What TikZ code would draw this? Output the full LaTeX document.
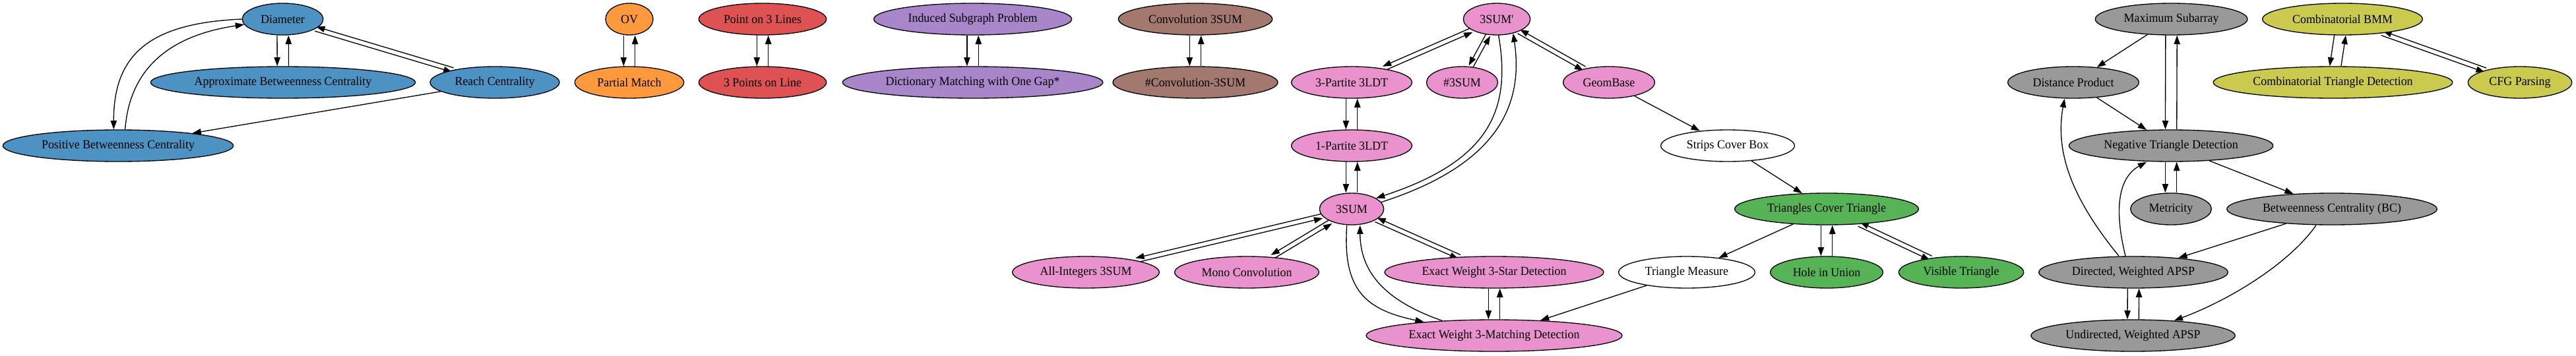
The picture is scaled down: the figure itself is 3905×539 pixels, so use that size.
\documentclass[tikz,border=0pt]{standalone}
\usepackage{fontspec}
\setmainfont{Liberation Serif}[FakeStretch=0.96]
\usetikzlibrary{shapes.geometric,arrows.meta}
\pgfdeclarelayer{background}
\pgfsetlayers{background,main}
\definecolor{cblue}{RGB}{76,146,195}
\definecolor{corange}{RGB}{255,153,62}
\definecolor{cred}{RGB}{222,82,83}
\definecolor{cpurple}{RGB}{169,133,202}
\definecolor{cbrown}{RGB}{163,120,111}
\definecolor{cpink}{RGB}{233,146,206}
\definecolor{cgreen}{RGB}{86,179,86}
\definecolor{cgray}{RGB}{153,153,153}
\definecolor{colive}{RGB}{201,202,78}
\tikzset{
  gv/.style={ellipse, draw=black, line width=1pt, minimum height=36pt, inner sep=0pt,
    font=\fontsize{14}{16}\selectfont},
  fblue/.style={gv, fill=cblue},
  forange/.style={gv, fill=corange},
  fred/.style={gv, fill=cred},
  fpurple/.style={gv, fill=cpurple},
  fbrown/.style={gv, fill=cbrown},
  fpink/.style={gv, fill=cpink},
  fgreen/.style={gv, fill=cgreen},
  fgray/.style={gv, fill=cgray},
  folive/.style={gv, fill=colive},
  fwhite/.style={gv, fill=white},
  arr/.style={line width=1pt, -{Triangle[length=10pt,width=7pt]}},
  dn/.style={transform canvas={xshift=-6.5pt}},
  upp/.style={transform canvas={xshift=6.5pt}},
  sh/.style={transform canvas={shift={(#1)}}}
}
\begin{document}
\begin{tikzpicture}[x=0.75pt,y=-0.75pt]
\useasboundingbox (0,0) rectangle (3905,539);
% blue
\node[fblue, minimum width=92pt] (dia) at (428.6,29) {Diameter};
\node[fblue, minimum width=301pt] (abc) at (429,125) {Approximate Betweenness Centrality};
\node[fblue, minimum width=147pt] (reach) at (750,125) {Reach Centrality};
\node[fblue, minimum width=262pt] (pbc) at (179,221) {Positive Betweenness Centrality};
% orange
\node[forange, minimum width=54pt] (ov) at (954,29) {OV};
\node[forange, minimum width=124pt] (pm) at (954,125) {Partial Match};
% red
\node[fred, minimum width=145pt] (p3l) at (1156,29) {Point on 3 Lines};
\node[fred, minimum width=145pt] (tpl) at (1156,125) {3 Points on Line};
% purple
\node[fpurple, minimum width=225pt] (isp) at (1474.6,29) {Induced Subgraph Problem};
\node[fpurple, minimum width=296pt] (dmg) at (1474.6,125) {Dictionary Matching with One Gap*};
% brown
\node[fbrown, minimum width=175pt] (c3s) at (1812,29) {Convolution 3SUM};
\node[fbrown, minimum width=187.5pt] (nc3s) at (1812,125) {\#Convolution-3SUM};
% pink
\node[fpink, minimum width=76pt] (tsp) at (2269,29) {3SUM\textquotesingle};
\node[fpink, minimum width=137pt] (tp) at (2049,125) {3-Partite 3LDT};
\node[fpink, minimum width=81pt] (ns) at (2216.5,125) {\#3SUM};
\node[fpink, minimum width=104pt] (geo) at (2439,125) {GeomBase};
\node[fpink, minimum width=137pt] (op) at (2049,221) {1-Partite 3LDT};
\node[fpink, minimum width=73pt] (ts) at (2049,317) {3SUM};
\node[fpink, minimum width=167pt] (ai) at (1646,413) {All-Integers 3SUM};
\node[fpink, minimum width=164pt] (mono) at (1890,413) {Mono Convolution};
\node[fpink, minimum width=249pt] (star) at (2265,413) {Exact Weight 3-Star Detection};
\node[fpink, minimum width=291pt] (match) at (2265,509) {Exact Weight 3-Matching Detection};
% white
\node[fwhite, minimum width=152pt] (scb) at (2619,221) {Strips Cover Box};
\node[fwhite, minimum width=155pt] (tm) at (2557,413) {Triangle Measure};
% green
\node[fgreen, minimum width=209pt] (tct) at (2769,317) {Triangles Cover Triangle};
\node[fgreen, minimum width=128pt] (hiu) at (2769,413) {Hole in Union};
\node[fgreen, minimum width=142pt] (vt) at (2973,413) {Visible Triangle};
% gray
\node[fgray, minimum width=173pt] (ms) at (3291.6,29) {Maximum Subarray};
\node[fgray, minimum width=149pt] (dp) at (3143,125) {Distance Product};
\node[fgray, minimum width=232pt] (ntd) at (3291,221) {Negative Triangle Detection};
\node[fgray, minimum width=92pt] (met) at (3291,317) {Metricity};
\node[fgray, minimum width=239pt] (bc) at (3535,317) {Betweenness Centrality (BC)};
\node[fgray, minimum width=215pt] (dwa) at (3234,413) {Directed, Weighted APSP};
\node[fgray, minimum width=232pt] (uwa) at (3233.5,509) {Undirected, Weighted APSP};
% olive
\node[folive, minimum width=182pt] (bmm) at (3551,29) {Combinatorial BMM};
\node[folive, minimum width=272pt] (ctd) at (3536.5,125) {Combinatorial Triangle Detection};
\node[folive, minimum width=118pt] (cfg) at (3820,125) {CFG Parsing};

\begin{pgfonlayer}{background}
% blue
\draw[arr,dn] (dia) -- (abc);
\draw[arr,upp] (abc) -- (dia);
\draw[arr,sh={-0.74pt,-2.49pt}] (dia) -- (reach);
\draw[arr,sh={0.74pt,2.49pt}] (reach) -- (dia);
\draw[arr] (dia.180) .. controls (230,35) and (172,80) .. ([xshift=-5pt]pbc.north);
\draw[arr] ([xshift=8pt]pbc.north) .. controls (196,110) and (250,55) .. (dia.188);
\draw[arr] (reach) -- (pbc);
% pairs
\draw[arr,dn] (ov) -- (pm);
\draw[arr,upp] (pm) -- (ov);
\draw[arr,dn] (p3l) -- (tpl);
\draw[arr,upp] (tpl) -- (p3l);
\draw[arr,dn] (isp) -- (dmg);
\draw[arr,upp] (dmg) -- (isp);
\draw[arr,dn] (c3s) -- (nc3s);
\draw[arr,upp] (nc3s) -- (c3s);
% pink
\draw[arr,sh={-1.04pt,2.38pt}] (tsp) -- (tp);
\draw[arr,sh={1.04pt,-2.38pt}] (tp) -- (tsp);
\draw[arr,sh={-2.28pt,1.25pt}] (tsp) -- (ns);
\draw[arr,sh={2.28pt,-1.25pt}] (ns) -- (tsp);
\draw[arr,sh={-1.28pt,-2.26pt}] (tsp) -- (geo);
\draw[arr,sh={1.28pt,2.26pt}] (geo) -- (tsp);
\draw[arr,dn] (tp) -- (op);
\draw[arr,upp] (op) -- (tp);
\draw[arr,dn] (op) -- (ts);
\draw[arr,upp] (ts) -- (op);
\draw[arr] ([xshift=2pt]tsp.south) .. controls (2292,170) and (2255,245) .. (ts.24);
\draw[arr] (ts.13) .. controls (2270,250) and (2310,160) .. (tsp.319);
\draw[arr,sh={-0.60pt,2.53pt}] (ts) -- (ai);
\draw[arr,sh={0.60pt,-2.53pt}] (ai) -- (ts);
\draw[arr,sh={-1.34pt,2.23pt}] (ts) -- (mono);
\draw[arr,sh={1.34pt,-2.23pt}] (mono) -- (ts);
\draw[arr,sh={-1.06pt,-2.38pt}] (ts) -- (star);
\draw[arr,sh={1.06pt,2.38pt}] (star) -- (ts);
\draw[arr] ([xshift=-5.5pt]ts.south) .. controls (2035,440) and (2070,470) .. (match.169);
\draw[arr] (match.164) .. controls (2110,460) and (2062,420) .. ([xshift=9.5pt]ts.south);
\draw[arr,dn] (star) -- (match);
\draw[arr,upp] (match) -- (star);
\draw[arr] (geo) -- (scb);
\draw[arr] (scb) -- (tct);
\draw[arr] (tct) -- (tm);
\draw[arr] (tm) -- (match);
\draw[arr,dn] (tct) -- (hiu);
\draw[arr,upp] (hiu) -- (tct);
\draw[arr,sh={-1.11pt,-2.35pt}] (tct) -- (vt);
\draw[arr,sh={1.11pt,2.35pt}] (vt) -- (tct);
% gray
\draw[arr] (ms) -- (dp);
\draw[arr,dn] (ms) -- (ntd);
\draw[arr,upp] (ntd) -- (ms);
\draw[arr] (dp) -- (ntd);
\draw[arr,dn] (ntd) -- (met);
\draw[arr,upp] (met) -- (ntd);
\draw[arr] (ntd) -- (bc);
\draw[arr] (bc) -- (dwa);
\draw[arr] ([xshift=-18pt]bc.south) .. controls (3470,400) and (3380,455) .. (uwa.20);
\draw[arr] ([xshift=-16.5pt]dwa.north) .. controls (3140,300) and (3115,230) .. ([xshift=-10pt]dp.south);
\draw[arr] ([xshift=-9pt]dwa.north) .. controls (3205,320) and (3210,270) .. ([xshift=-27.75pt]ntd.south);
\draw[arr,dn] (dwa) -- (uwa);
\draw[arr,upp] (uwa) -- (dwa);
% olive
\draw[arr,dn] (bmm) -- (ctd);
\draw[arr,upp] (ctd) -- (bmm);
\draw[arr,sh={-0.87pt,-2.45pt}] (bmm) -- (cfg);
\draw[arr,sh={0.87pt,2.45pt}] (cfg) -- (bmm);
\end{pgfonlayer}
\end{tikzpicture}
\end{document}
